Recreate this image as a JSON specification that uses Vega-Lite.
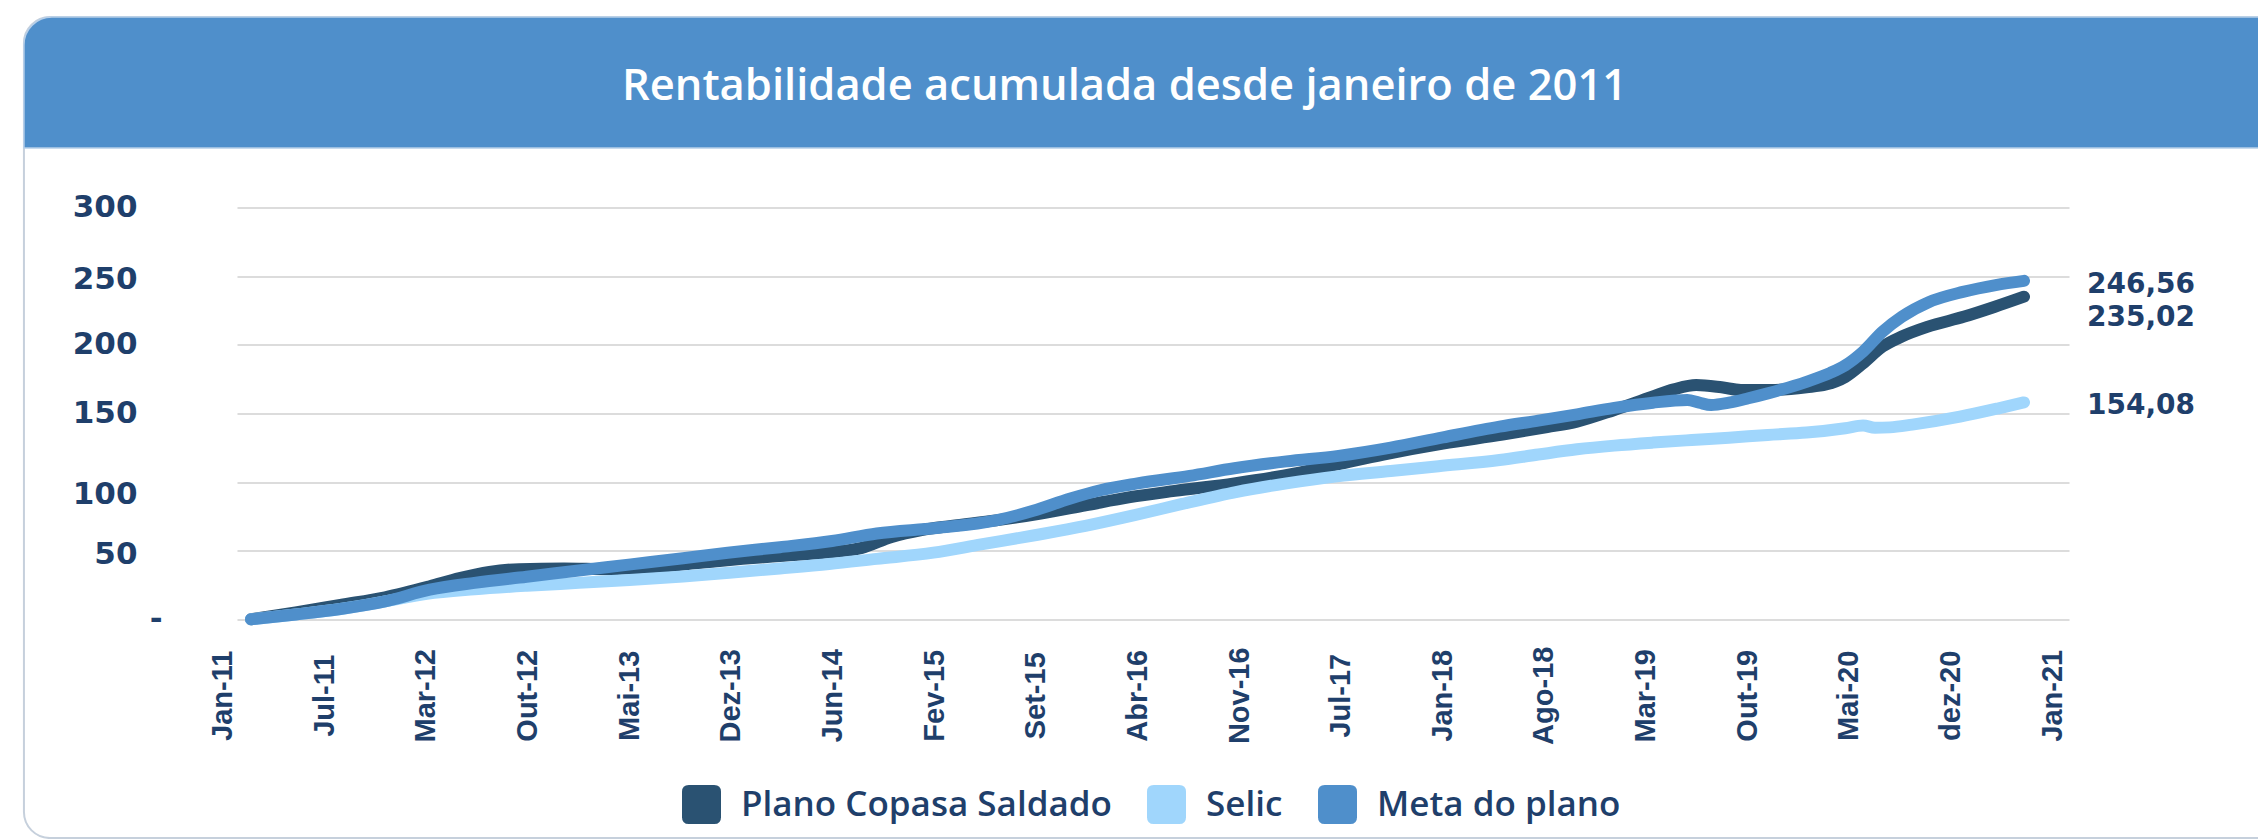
{
  "$schema": "https://vega.github.io/schema/vega-lite/v6.json",
  "width": 1832,
  "height": 411.75,
  "autosize": {"type": "none"},
  "padding": {"left": 237, "top": 207.5, "right": 189, "bottom": 219.75},
  "background": "#ffffff",
  "config": {"view": {"stroke": null}},
  "datasets": {
    "series": [
      {"serie": "Plano Copasa Saldado", "mes": 0, "valor": 0},
      {"serie": "Plano Copasa Saldado", "mes": 3, "valor": 5},
      {"serie": "Plano Copasa Saldado", "mes": 6, "valor": 10.5},
      {"serie": "Plano Copasa Saldado", "mes": 9, "valor": 16},
      {"serie": "Plano Copasa Saldado", "mes": 12, "valor": 24},
      {"serie": "Plano Copasa Saldado", "mes": 14, "valor": 30},
      {"serie": "Plano Copasa Saldado", "mes": 16, "valor": 34.5},
      {"serie": "Plano Copasa Saldado", "mes": 18, "valor": 36.5},
      {"serie": "Plano Copasa Saldado", "mes": 21, "valor": 37},
      {"serie": "Plano Copasa Saldado", "mes": 24, "valor": 36.5},
      {"serie": "Plano Copasa Saldado", "mes": 27, "valor": 38},
      {"serie": "Plano Copasa Saldado", "mes": 30, "valor": 41},
      {"serie": "Plano Copasa Saldado", "mes": 33, "valor": 44},
      {"serie": "Plano Copasa Saldado", "mes": 36, "valor": 46.5},
      {"serie": "Plano Copasa Saldado", "mes": 39, "valor": 49},
      {"serie": "Plano Copasa Saldado", "mes": 41, "valor": 52},
      {"serie": "Plano Copasa Saldado", "mes": 43, "valor": 60},
      {"serie": "Plano Copasa Saldado", "mes": 45, "valor": 65},
      {"serie": "Plano Copasa Saldado", "mes": 47, "valor": 68},
      {"serie": "Plano Copasa Saldado", "mes": 50, "valor": 72},
      {"serie": "Plano Copasa Saldado", "mes": 53, "valor": 77},
      {"serie": "Plano Copasa Saldado", "mes": 56, "valor": 83},
      {"serie": "Plano Copasa Saldado", "mes": 59, "valor": 89},
      {"serie": "Plano Copasa Saldado", "mes": 62, "valor": 93.5},
      {"serie": "Plano Copasa Saldado", "mes": 66, "valor": 99},
      {"serie": "Plano Copasa Saldado", "mes": 70, "valor": 106},
      {"serie": "Plano Copasa Saldado", "mes": 73, "valor": 113},
      {"serie": "Plano Copasa Saldado", "mes": 76, "valor": 120},
      {"serie": "Plano Copasa Saldado", "mes": 80, "valor": 128},
      {"serie": "Plano Copasa Saldado", "mes": 84, "valor": 134.5},
      {"serie": "Plano Copasa Saldado", "mes": 87, "valor": 140},
      {"serie": "Plano Copasa Saldado", "mes": 89, "valor": 144},
      {"serie": "Plano Copasa Saldado", "mes": 91.5, "valor": 152.5},
      {"serie": "Plano Copasa Saldado", "mes": 94, "valor": 162},
      {"serie": "Plano Copasa Saldado", "mes": 95.5, "valor": 167.5},
      {"serie": "Plano Copasa Saldado", "mes": 97, "valor": 170.7},
      {"serie": "Plano Copasa Saldado", "mes": 98.7, "valor": 169},
      {"serie": "Plano Copasa Saldado", "mes": 100, "valor": 167},
      {"serie": "Plano Copasa Saldado", "mes": 102, "valor": 167},
      {"serie": "Plano Copasa Saldado", "mes": 104.4, "valor": 169},
      {"serie": "Plano Copasa Saldado", "mes": 105.7, "valor": 171},
      {"serie": "Plano Copasa Saldado", "mes": 107, "valor": 176.5},
      {"serie": "Plano Copasa Saldado", "mes": 108.2, "valor": 186.5},
      {"serie": "Plano Copasa Saldado", "mes": 109.5, "valor": 198.6},
      {"serie": "Plano Copasa Saldado", "mes": 110.8, "valor": 206},
      {"serie": "Plano Copasa Saldado", "mes": 112.5, "valor": 213},
      {"serie": "Plano Copasa Saldado", "mes": 115, "valor": 220.5},
      {"serie": "Plano Copasa Saldado", "mes": 117, "valor": 227.5},
      {"serie": "Plano Copasa Saldado", "mes": 119, "valor": 235.02},
      {"serie": "Selic", "mes": 0, "valor": 0},
      {"serie": "Selic", "mes": 3, "valor": 3.5},
      {"serie": "Selic", "mes": 6, "valor": 7.5},
      {"serie": "Selic", "mes": 9, "valor": 13},
      {"serie": "Selic", "mes": 11.8, "valor": 18.5},
      {"serie": "Selic", "mes": 15, "valor": 21.8},
      {"serie": "Selic", "mes": 18.5, "valor": 24.4},
      {"serie": "Selic", "mes": 22, "valor": 26.5},
      {"serie": "Selic", "mes": 25.4, "valor": 28.6},
      {"serie": "Selic", "mes": 29, "valor": 31.2},
      {"serie": "Selic", "mes": 32.1, "valor": 33.9},
      {"serie": "Selic", "mes": 35.5, "valor": 37},
      {"serie": "Selic", "mes": 38.8, "valor": 40.2},
      {"serie": "Selic", "mes": 42, "valor": 44},
      {"serie": "Selic", "mes": 45.8, "valor": 48.5},
      {"serie": "Selic", "mes": 49, "valor": 54.5},
      {"serie": "Selic", "mes": 52.6, "valor": 61.2},
      {"serie": "Selic", "mes": 56, "valor": 68},
      {"serie": "Selic", "mes": 59.3, "valor": 75.8},
      {"serie": "Selic", "mes": 62.5, "valor": 84},
      {"serie": "Selic", "mes": 66.1, "valor": 92.7},
      {"serie": "Selic", "mes": 69.5, "valor": 99},
      {"serie": "Selic", "mes": 72.9, "valor": 104.1},
      {"serie": "Selic", "mes": 76.5, "valor": 108},
      {"serie": "Selic", "mes": 79.7, "valor": 111.5},
      {"serie": "Selic", "mes": 83.8, "valor": 116},
      {"serie": "Selic", "mes": 86.4, "valor": 120},
      {"serie": "Selic", "mes": 89, "valor": 123.8},
      {"serie": "Selic", "mes": 91.5, "valor": 126.5},
      {"serie": "Selic", "mes": 94.1, "valor": 128.7},
      {"serie": "Selic", "mes": 96.7, "valor": 130.6},
      {"serie": "Selic", "mes": 99.2, "valor": 132.3},
      {"serie": "Selic", "mes": 101.8, "valor": 134.3},
      {"serie": "Selic", "mes": 104.4, "valor": 136},
      {"serie": "Selic", "mes": 107, "valor": 139.2},
      {"serie": "Selic", "mes": 108.2, "valor": 141.2},
      {"serie": "Selic", "mes": 109, "valor": 139.5},
      {"serie": "Selic", "mes": 110, "valor": 139.8},
      {"serie": "Selic", "mes": 111.5, "valor": 141.8},
      {"serie": "Selic", "mes": 114.7, "valor": 147.6},
      {"serie": "Selic", "mes": 117.3, "valor": 153.7},
      {"serie": "Selic", "mes": 119, "valor": 158},
      {"serie": "Meta do plano", "mes": 0, "valor": 0},
      {"serie": "Meta do plano", "mes": 3, "valor": 3.5},
      {"serie": "Meta do plano", "mes": 6, "valor": 7.5},
      {"serie": "Meta do plano", "mes": 9, "valor": 13},
      {"serie": "Meta do plano", "mes": 12, "valor": 21.5},
      {"serie": "Meta do plano", "mes": 15, "valor": 26.5},
      {"serie": "Meta do plano", "mes": 18.5, "valor": 31},
      {"serie": "Meta do plano", "mes": 22, "valor": 35.5},
      {"serie": "Meta do plano", "mes": 25.5, "valor": 40},
      {"serie": "Meta do plano", "mes": 29, "valor": 44.5},
      {"serie": "Meta do plano", "mes": 32, "valor": 48.5},
      {"serie": "Meta do plano", "mes": 35.5, "valor": 52.5},
      {"serie": "Meta do plano", "mes": 39, "valor": 57},
      {"serie": "Meta do plano", "mes": 42, "valor": 62.5},
      {"serie": "Meta do plano", "mes": 46, "valor": 66.5},
      {"serie": "Meta do plano", "mes": 50, "valor": 72},
      {"serie": "Meta do plano", "mes": 52.5, "valor": 79},
      {"serie": "Meta do plano", "mes": 55, "valor": 88},
      {"serie": "Meta do plano", "mes": 57, "valor": 94},
      {"serie": "Meta do plano", "mes": 59.5, "valor": 99},
      {"serie": "Meta do plano", "mes": 63, "valor": 104.5},
      {"serie": "Meta do plano", "mes": 66, "valor": 110},
      {"serie": "Meta do plano", "mes": 69.5, "valor": 115},
      {"serie": "Meta do plano", "mes": 73, "valor": 119},
      {"serie": "Meta do plano", "mes": 76.5, "valor": 125},
      {"serie": "Meta do plano", "mes": 80, "valor": 132.5},
      {"serie": "Meta do plano", "mes": 83.8, "valor": 140.3},
      {"serie": "Meta do plano", "mes": 86.4, "valor": 144.7},
      {"serie": "Meta do plano", "mes": 89, "valor": 149.3},
      {"serie": "Meta do plano", "mes": 91.5, "valor": 154},
      {"serie": "Meta do plano", "mes": 94.1, "valor": 157.8},
      {"serie": "Meta do plano", "mes": 96.4, "valor": 159.7},
      {"serie": "Meta do plano", "mes": 97.2, "valor": 157.8},
      {"serie": "Meta do plano", "mes": 98, "valor": 156.1},
      {"serie": "Meta do plano", "mes": 99.2, "valor": 157.8},
      {"serie": "Meta do plano", "mes": 100.5, "valor": 161},
      {"serie": "Meta do plano", "mes": 101.8, "valor": 164.6},
      {"serie": "Meta do plano", "mes": 104.4, "valor": 173},
      {"serie": "Meta do plano", "mes": 106, "valor": 179.5},
      {"serie": "Meta do plano", "mes": 107, "valor": 185},
      {"serie": "Meta do plano", "mes": 108.2, "valor": 195},
      {"serie": "Meta do plano", "mes": 109.5, "valor": 209.5},
      {"serie": "Meta do plano", "mes": 110.8, "valor": 220.4},
      {"serie": "Meta do plano", "mes": 112.6, "valor": 231},
      {"serie": "Meta do plano", "mes": 114.9, "valor": 238.5},
      {"serie": "Meta do plano", "mes": 117.1, "valor": 243.5},
      {"serie": "Meta do plano", "mes": 119, "valor": 246.56}
    ],
    "rotulos": [
      {"serie": "Meta do plano", "mes": 119, "valor": 246.56, "texto": "246,56"},
      {"serie": "Plano Copasa Saldado", "mes": 119, "valor": 235.02, "texto": "235,02"},
      {"serie": "Selic", "mes": 119, "valor": 154.08, "texto": "154,08"}
    ]
  },
  "layer": [
    {
      "data": {"name": "series"},
      "mark": {"type": "line", "strokeWidth": 12, "strokeCap": "round", "strokeJoin": "round", "interpolate": "monotone"},
      "encoding": {
        "x": {
          "field": "mes", "type": "quantitative",
          "scale": {"domain": [-0.9397, 122.0203], "nice": false, "zero": false},
          "axis": {
            "title": null, "grid": false, "domain": false, "ticks": false,
            "values": [-0.9061, 5.9165, 12.7391, 19.5617, 26.3843, 33.2069, 40.0295, 46.8521, 53.6747, 60.4973, 67.3199, 74.1425, 80.9651, 87.7877, 94.6103, 101.4329, 108.2555, 115.0781, 121.9007],
            "labelExpr": "['Jan-11','Jul-11','Mar-12','Out-12','Mai-13','Dez-13','Jun-14','Fev-15','Set-15','Abr-16','Nov-16','Jul-17','Jan-18','Ago-18','Mar-19','Out-19','Mai-20','dez-20','Jan-21'][round((datum.value + 0.9061) / 6.8226)]",
            "labelAngle": -90, "labelAlign": "center", "labelBaseline": "middle",
            "labelPadding": 76, "labelOffset": -15, "labelFlush": false, "labelOverlap": false,
            "labelFont": "Liberation Sans", "labelFontWeight": "bold", "labelFontSize": 29, "labelColor": "#1f3f6b"
          }
        },
        "y": {
          "field": "valor", "type": "quantitative",
          "scale": {"domain": [0, 300], "nice": false},
          "axis": {
            "title": null, "grid": true, "gridColor": "#dcdcdc", "gridWidth": 2, "domain": false, "ticks": false,
            "values": [0, 50, 100, 150, 200, 250, 300],
            "labelExpr": "datum.value == 0 ? '-' : datum.label",
            "labelPadding": {"condition": {"test": "datum.value == 0", "value": 75}, "value": 100},
            "labelOffset": {"condition": [{"test": "datum.value == 100", "value": 12}, {"test": "datum.value == 50", "value": 4}, {"test": "datum.value == 250", "value": 3}], "value": 0},
            "labelFont": "DejaVu Sans", "labelFontWeight": "bold", "labelFontSize": 31, "labelColor": "#1f3f6b"
          }
        },
        "color": {
          "field": "serie", "type": "nominal",
          "scale": {"domain": ["Plano Copasa Saldado", "Selic", "Meta do plano"], "range": ["#2a5272", "#a0d6fc", "#4f8fcb"]},
          "legend": {
            "orient": "none", "legendX": 445, "legendY": 577.5, "direction": "horizontal", "title": null,
            "symbolType": "M-0.65,-1L0.65,-1Q1,-1,1,-0.65L1,0.65Q1,1,0.65,1L-0.65,1Q-1,1,-1,0.65L-1,-0.65Q-1,-1,-0.65,-1Z",
            "symbolSize": 1521, "symbolStrokeWidth": 0,
            "labelFont": "Open Sans", "labelFontWeight": 600, "labelFontSize": 35, "labelColor": "#1f3f6b",
            "labelOffset": 20, "columnPadding": 35, "padding": 0, "labelLimit": 1000,
            "encode": {"symbols": {"update": {"fill": {"scale": "color", "field": "value"}, "fillOpacity": {"value": 1}, "strokeWidth": {"value": 0}}}}
          }
        }
      }
    },
    {
      "data": {"values": [{}]},
      "mark": {"type": "rect", "fill": "transparent", "stroke": "#c6d0dc", "strokeWidth": 2, "cornerRadius": 26},
      "encoding": {
        "x": {"datum": -15.24},
        "x2": {"datum": 160},
        "y": {"datum": 438.8},
        "y2": {"datum": -159.4}
      }
    },
    {
      "data": {"values": [{}]},
      "mark": {"type": "rect", "fill": "#4f8fcb", "stroke": "#b7cfe9", "strokeWidth": 1.5, "cornerRadiusTopLeft": 28},
      "encoding": {
        "x": {"datum": -15.24},
        "x2": {"datum": 160},
        "y": {"datum": 438.8},
        "y2": {"datum": 343.3}
      }
    },
    {
      "data": {"values": [{}]},
      "mark": {"type": "text", "text": "Rentabilidade acumulada desde janeiro de 2011", "font": "Open Sans", "fontWeight": 600, "fontSize": 43.5, "color": "#ffffff", "align": "center", "baseline": "alphabetic"},
      "encoding": {
        "x": {"datum": 58.63},
        "y": {"datum": 378.3}
      }
    },
    {
      "data": {"name": "rotulos"},
      "transform": [{"filter": "datum.serie == 'Meta do plano'"}],
      "mark": {"type": "text", "align": "left", "baseline": "middle", "dx": 63, "dy": 4, "font": "DejaVu Sans", "fontWeight": "bold", "fontSize": 28, "color": "#1f3f6b"},
      "encoding": {
        "x": {"field": "mes", "type": "quantitative"},
        "y": {"field": "valor", "type": "quantitative"},
        "text": {"field": "texto"}
      }
    },
    {
      "data": {"name": "rotulos"},
      "transform": [{"filter": "datum.serie == 'Plano Copasa Saldado'"}],
      "mark": {"type": "text", "align": "left", "baseline": "middle", "dx": 63, "dy": 21, "font": "DejaVu Sans", "fontWeight": "bold", "fontSize": 28, "color": "#1f3f6b"},
      "encoding": {
        "x": {"field": "mes", "type": "quantitative"},
        "y": {"field": "valor", "type": "quantitative"},
        "text": {"field": "texto"}
      }
    },
    {
      "data": {"name": "rotulos"},
      "transform": [{"filter": "datum.serie == 'Selic'"}],
      "mark": {"type": "text", "align": "left", "baseline": "middle", "dx": 63, "dy": -2, "font": "DejaVu Sans", "fontWeight": "bold", "fontSize": 28, "color": "#1f3f6b"},
      "encoding": {
        "x": {"field": "mes", "type": "quantitative"},
        "y": {"field": "valor", "type": "quantitative"},
        "text": {"field": "texto"}
      }
    }
  ]
}
